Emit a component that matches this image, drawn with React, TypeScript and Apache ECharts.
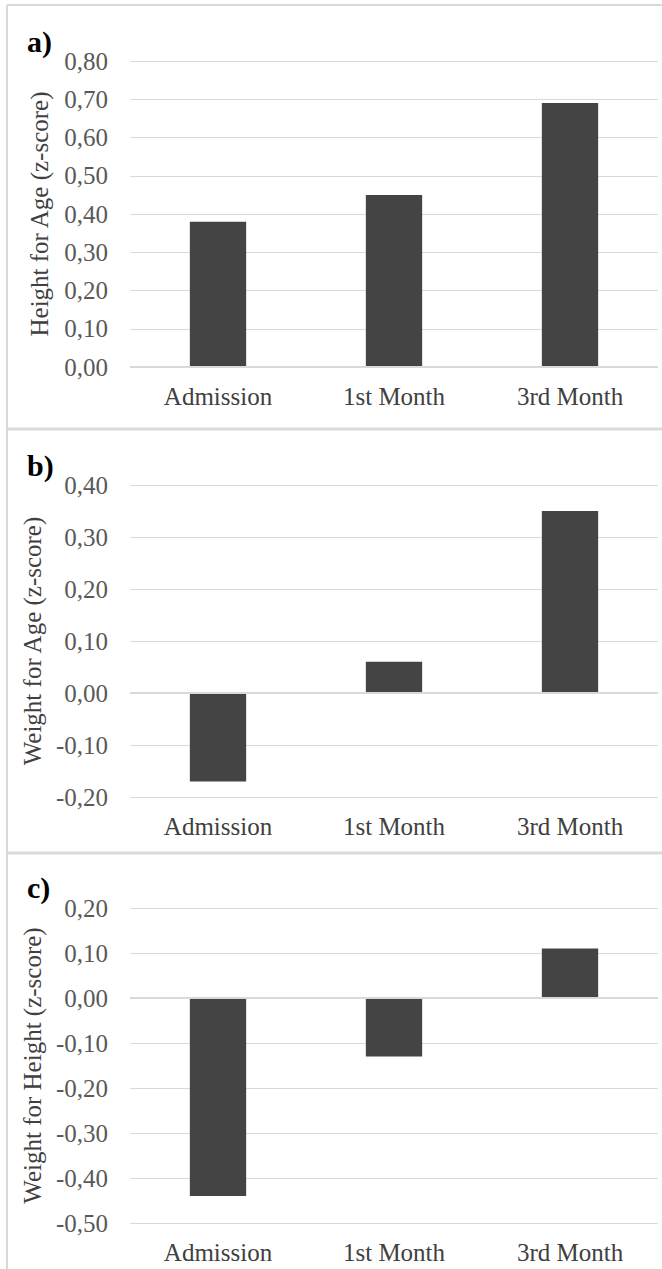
import React, { useEffect, useRef } from "react";
import * as echarts from "echarts";

const categories = ["Admission", "1st Month", "3rd Month"];
const heightForAge = [0.38, 0.45, 0.69];
const weightForAge = [-0.17, 0.06, 0.35];
const weightForHeight = [-0.44, -0.13, 0.11];
const panelLabels = ["a)", "b)", "c)"];
const axisNames = ["Height for Age (z-score)", "Weight for Age (z-score)", "Weight for Height (z-score)"];
const yRanges = [
  [0, 0.8],
  [-0.2, 0.4],
  [-0.5, 0.2],
];

const FONT = "Liberation Serif";

export default function App() {
  const ref = useRef<HTMLDivElement>(null);
  useEffect(() => {
    document.body.style.margin = "0";
    const chart = echarts.init(ref.current!, null, { renderer: "svg" });
    const grids = [
      { left: 130, right: 4, top: 61, height: 306 },
      { left: 130, right: 4, top: 485, height: 312 },
      { left: 130, right: 4, top: 908, height: 315 },
    ];
    const datasets = [heightForAge, weightForAge, weightForHeight];
    const idx = [0, 1, 2];
    chart.setOption({
      animation: false,
      textStyle: { fontFamily: FONT },
      grid: grids,
      xAxis: idx.map((i) => ({
        type: "category",
        gridIndex: i,
        data: categories,
        axisLine: { show: false, onZero: false },
        axisTick: { show: false },
        axisLabel: { color: "#404040", fontSize: 25, fontFamily: FONT, margin: 17 },
      })),
      yAxis: idx.map((i) => ({
        type: "value",
        gridIndex: i,
        min: yRanges[i][0],
        max: yRanges[i][1],
        interval: 0.1,
        name: axisNames[i],
        nameLocation: "middle",
        nameGap: 78,
        nameTextStyle: { color: "#404040", fontSize: 25, fontFamily: FONT },
        axisLine: { show: false },
        axisTick: { show: false },
        axisLabel: {
          color: "#595959",
          fontSize: 25,
          fontFamily: FONT,
          margin: 22,
          formatter: (v: number) => v.toFixed(2).replace(".", ","),
        },
        splitLine: { lineStyle: { color: "#d9d9d9", width: 1 } },
      })),
      series: idx.map((i) => ({
        type: "bar",
        xAxisIndex: i,
        yAxisIndex: i,
        data: datasets[i],
        barWidth: "32%",
        itemStyle: { color: "#444444" },
        markLine: {
          silent: true,
          symbol: "none",
          label: { show: false },
          lineStyle: { color: "#d9d9d9", width: 2, type: "solid" },
          data: [{ yAxis: 0 }],
        },
      })),
      graphic: [
        { type: "line", shape: { x1: 7, y1: 5, x2: 7, y2: 1269 }, style: { stroke: "#d9d9d9", lineWidth: 2 } },
        { type: "line", shape: { x1: 7, y1: 5, x2: 662, y2: 5 }, style: { stroke: "#d9d9d9", lineWidth: 2 } },
        { type: "line", shape: { x1: 7, y1: 429, x2: 662, y2: 429 }, style: { stroke: "#d9d9d9", lineWidth: 3 } },
        { type: "line", shape: { x1: 7, y1: 853, x2: 662, y2: 853 }, style: { stroke: "#d9d9d9", lineWidth: 3 } },
        ...panelLabels.map((t, i) => ({
          type: "text",
          left: 27,
          top: [26, 450, 872][i],
          style: { text: t, fontFamily: FONT, fontWeight: "bold", fontSize: 30, fill: "#000000" },
        })),
      ],
    });
    return () => chart.dispose();
  }, []);
  return <div ref={ref} style={{ width: 662, height: 1269 }} />;
}
